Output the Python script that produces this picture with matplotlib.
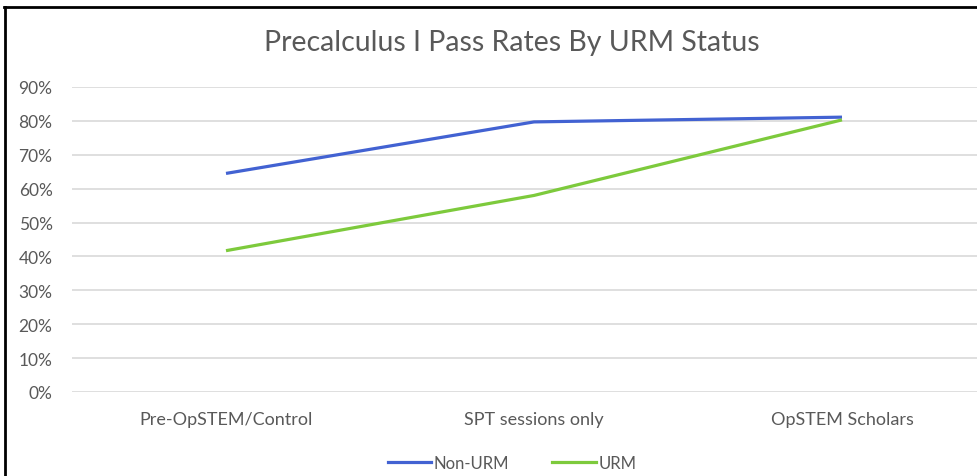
import matplotlib
matplotlib.use("Agg")
import matplotlib.pyplot as plt
from matplotlib.lines import Line2D

categories = ["Pre-OpSTEM/Control", "SPT sessions only", "OpSTEM Scholars"]
non_urm = [0.645, 0.797, 0.811]
urm = [0.417, 0.580, 0.803]
series_names = ["Non-URM", "URM"]
yticks = [0, 0.1, 0.2, 0.3, 0.4, 0.5, 0.6, 0.7, 0.8, 0.9]
ytick_labels = ["0%", "10%", "20%", "30%", "40%", "50%", "60%", "70%", "80%", "90%"]
title = "Precalculus I Pass Rates By URM Status"

plt.rcParams['font.family'] = ['Lato', 'DejaVu Sans']

W, H = 977, 477
fig = plt.figure(figsize=(W / 100, H / 100), dpi=100)
fig.patch.set_facecolor("white")

ax = fig.add_axes([72 / W, (H - 393) / H, (996 - 72) / W, (393 - 88) / H])
x = list(range(len(categories)))
ax.plot(x, non_urm, color="#4262d2", lw=2.3, solid_capstyle="butt", zorder=3)
ax.plot(x, urm, color="#7dca3c", lw=2.3, solid_capstyle="butt", zorder=3)
ax.set_xlim(-0.5, 2.5)
ax.set_ylim(0, 0.9)
ax.set_yticks(yticks)
ax.set_yticklabels(ytick_labels)
ax.set_xticks(x)
ax.set_xticklabels(categories)
for s in ax.spines.values():
    s.set_visible(False)
ax.grid(axis="y", color="#d9d9d9", lw=1.2)
ax.set_axisbelow(True)
ax.tick_params(axis="both", length=0, colors="#595959")
ax.tick_params(axis="y", pad=14, labelsize=12.5)
ax.tick_params(axis="x", pad=14, labelsize=13)
for lbl in ax.get_yticklabels():
    lbl.set_horizontalalignment("right")

fig.text(512 / W, 1 - 43 / H, title, ha="center", va="center", fontsize=20.5, color="#595959")

handles = [Line2D([], [], color="#4262d2", lw=2.3), Line2D([], [], color="#7dca3c", lw=2.3)]
fig.legend(handles, series_names, loc="center", bbox_to_anchor=(512 / W, 1 - 464 / H),
           ncol=2, frameon=False, fontsize=12, handlelength=2.6, handletextpad=0.15,
           columnspacing=2.6, labelcolor="#595959")

# outer frame (left and top)
fig.add_artist(Line2D([5 / W, 5 / W], [0, 1 - 8 / H], transform=fig.transFigure, color="black", lw=2))
fig.add_artist(Line2D([4 / W, 1], [1 - 8 / H, 1 - 8 / H], transform=fig.transFigure, color="black", lw=2))

fig.savefig("out.png", dpi=100, facecolor="white")
